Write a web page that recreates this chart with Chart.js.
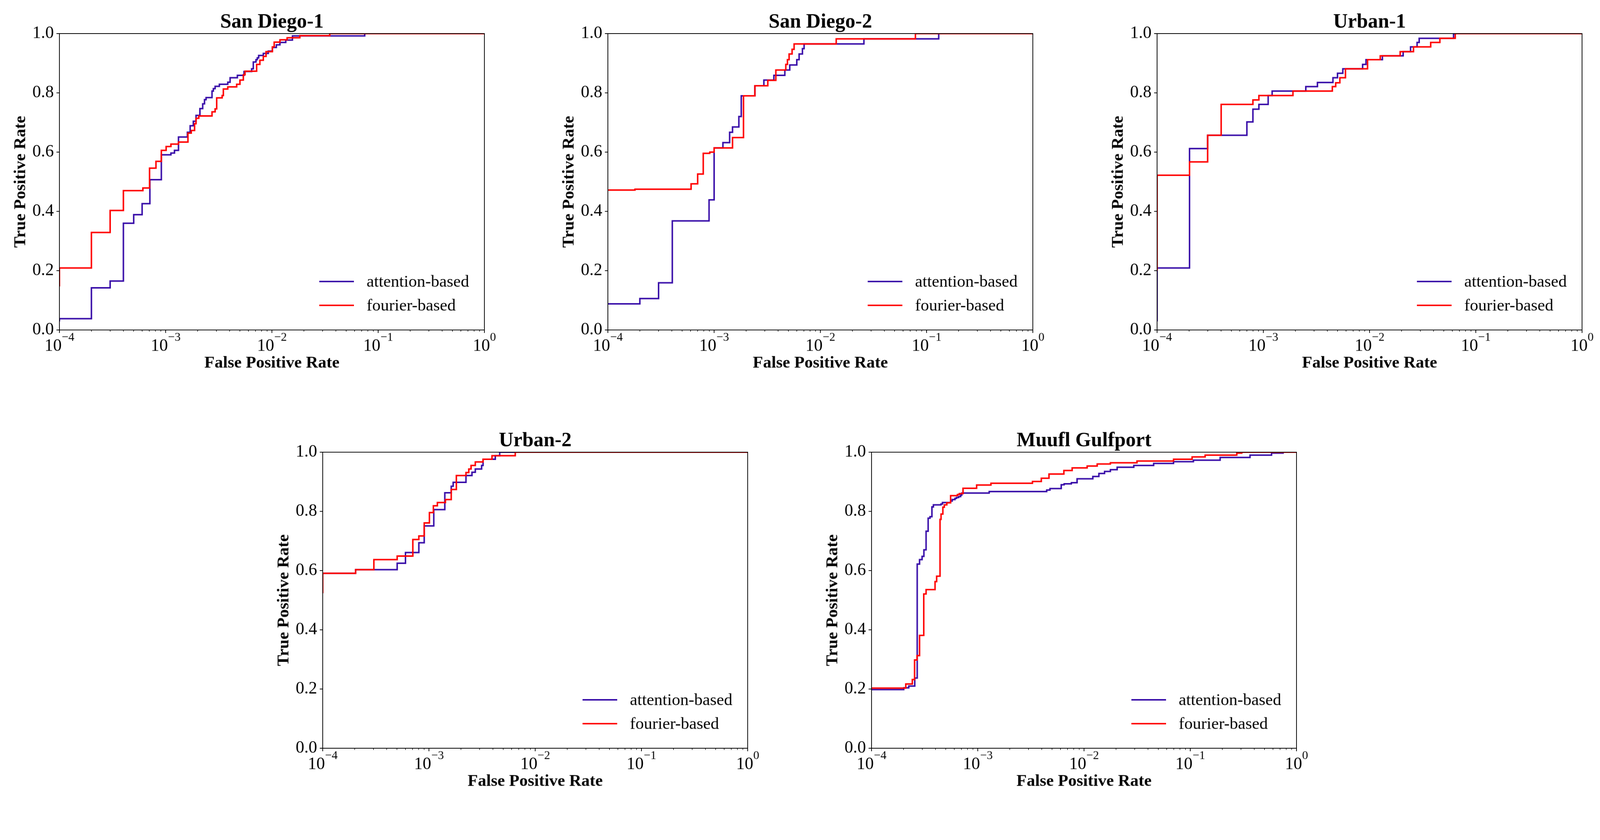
<!DOCTYPE html>
<html>
<head>
<meta charset="utf-8">
<title>ROC curves</title>
<script src="https://cdn.jsdelivr.net/npm/chart.js@4.4.1/dist/chart.umd.min.js"></script>
<style>
  html, body { margin: 0; padding: 0; background: #fff; overflow: hidden; }
  #figure { position: relative; background: #fff; }
  #figure canvas { position: absolute; }
</style>
</head>
<body>
<div id="figure"></div>
<script>
// [false positive rate, true positive rate] at each step of the ROC curve
const sd1Attention = [
  [1e-4, 0.029], [1e-4, 0.038], [2e-4, 0.142], [3e-4, 0.165], [4e-4, 0.36], [5e-4, 0.389],
  [6e-4, 0.426], [7.1e-4, 0.507], [9.1e-4, 0.591], [1.12e-3, 0.597], [1.21e-3, 0.606],
  [1.32e-3, 0.651], [1.6e-3, 0.667], [1.7e-3, 0.689], [1.82e-3, 0.704], [1.93e-3, 0.724],
  [2.1e-3, 0.747], [2.23e-3, 0.763], [2.32e-3, 0.777], [2.4e-3, 0.784], [2.73e-3, 0.806],
  [2.81e-3, 0.814], [2.92e-3, 0.822], [3.2e-3, 0.829], [3.84e-3, 0.836], [4.04e-3, 0.851],
  [4.73e-3, 0.859], [5.46e-3, 0.872], [6.44e-3, 0.881], [6.68e-3, 0.904], [7.08e-3, 0.912],
  [7.28e-3, 0.918], [7.5e-3, 0.926], [8.3e-3, 0.933], [9.25e-3, 0.941], [1.01e-2, 0.953],
  [1.1e-2, 0.962], [1.19e-2, 0.97], [1.35e-2, 0.978], [1.56e-2, 0.992], [7.47e-2, 1.0], [1, 1.0]
];
const sd1Fourier = [
  [1e-4, 0.147], [1e-4, 0.209], [2e-4, 0.329], [3e-4, 0.403], [4e-4, 0.470], [6.1e-4, 0.479],
  [7.05e-4, 0.546], [8.1e-4, 0.569], [9.1e-4, 0.606], [1.01e-3, 0.619], [1.12e-3, 0.627],
  [1.32e-3, 0.634], [1.62e-3, 0.664], [1.74e-3, 0.673], [1.87e-3, 0.696], [1.93e-3, 0.714],
  [2.05e-3, 0.722], [2.73e-3, 0.736], [2.92e-3, 0.746], [3.02e-3, 0.783], [3.4e-3, 0.791],
  [3.49e-3, 0.813], [3.84e-3, 0.82], [4.66e-3, 0.829], [5.0e-3, 0.843], [5.38e-3, 0.861],
  [5.58e-3, 0.873], [7.18e-3, 0.896], [7.7e-3, 0.91], [8.3e-3, 0.923], [8.8e-3, 0.939],
  [1.01e-2, 0.955], [1.05e-2, 0.971], [1.19e-2, 0.979], [1.39e-2, 0.986], [1.83e-2, 0.993],
  [3.5e-2, 1.0], [1, 1.0]
];
const sd2Attention = [
  [1e-4, 0.088], [2.0e-4, 0.106], [3.0e-4, 0.159], [4.04e-4, 0.368], [8.96e-4, 0.386],
  [8.96e-4, 0.439], [1.0e-3, 0.614], [1.21e-3, 0.632], [1.4e-3, 0.667], [1.49e-3, 0.685],
  [1.71e-3, 0.72], [1.8e-3, 0.79], [2.42e-3, 0.824], [2.94e-3, 0.843], [3.65e-3, 0.859],
  [4.63e-3, 0.877], [5.15e-3, 0.894], [6.0e-3, 0.912], [6.31e-3, 0.931], [6.78e-3, 0.949],
  [7.03e-3, 0.965], [2.57e-2, 0.982], [0.13, 1.0], [1, 1.0]
];
const sd2Fourier = [
  [1e-4, 0.472], [1.8e-4, 0.475], [6.07e-4, 0.493], [7.0e-4, 0.526], [7.9e-4, 0.596],
  [9.1e-4, 0.6], [1.0e-3, 0.614], [1.49e-3, 0.649], [1.89e-3, 0.79], [2.42e-3, 0.824],
  [3.2e-3, 0.842], [3.81e-3, 0.877], [4.73e-3, 0.896], [4.9e-3, 0.912], [5.08e-3, 0.931],
  [5.42e-3, 0.947], [5.66e-3, 0.965], [1.41e-2, 0.982], [7.85e-2, 1.0], [1, 1.0]
];
const urban1Attention = [
  [1e-4, 0.029], [1e-4, 0.209], [2.02e-4, 0.612], [2.99e-4, 0.657], [7.0e-4, 0.702],
  [7.98e-4, 0.745], [9.08e-4, 0.761], [1.11e-3, 0.791], [1.21e-3, 0.806], [2.51e-3, 0.821],
  [3.23e-3, 0.835], [4.52e-3, 0.851], [4.99e-3, 0.866], [5.6e-3, 0.881], [8.6e-3, 0.896],
  [9.25e-3, 0.912], [1.32e-2, 0.925], [2.07e-2, 0.939], [2.43e-2, 0.955], [2.8e-2, 0.97],
  [2.93e-2, 0.984], [6.17e-2, 1.0], [1, 1.0]
];
const urban1Fourier = [
  [1e-4, 0.2], [1e-4, 0.522], [2.02e-4, 0.567], [2.99e-4, 0.657], [4.01e-4, 0.761],
  [7.98e-4, 0.776], [9.08e-4, 0.791], [1.9e-3, 0.806], [4.46e-3, 0.821], [4.8e-3, 0.834],
  [5.25e-3, 0.851], [5.93e-3, 0.881], [9.57e-3, 0.912], [1.26e-2, 0.925], [1.94e-2, 0.939],
  [2.59e-2, 0.955], [3.76e-2, 0.97], [4.59e-2, 0.984], [6.4e-2, 1.0], [1, 1.0]
];
const urban2Attention = [
  [1e-4, 0.524], [1e-4, 0.591], [2.04e-4, 0.603], [5.02e-4, 0.625], [6.01e-4, 0.661],
  [8.03e-4, 0.694], [9.02e-4, 0.751], [1.11e-3, 0.806], [1.41e-3, 0.863], [1.62e-3, 0.885],
  [1.69e-3, 0.898], [2.23e-3, 0.921], [2.54e-3, 0.932], [2.73e-3, 0.943], [3.13e-3, 0.955],
  [3.23e-3, 0.976], [4.21e-3, 0.988], [4.63e-3, 1.0], [1, 1.0]
];
const urban2Fourier = [
  [1e-4, 0.524], [1e-4, 0.591], [2.04e-4, 0.603], [3.03e-4, 0.637], [5.02e-4, 0.649],
  [7.05e-4, 0.705], [8.03e-4, 0.717], [9.02e-4, 0.761], [1.01e-3, 0.796], [1.1e-3, 0.819],
  [1.2e-3, 0.83], [1.43e-3, 0.84], [1.62e-3, 0.874], [1.81e-3, 0.921], [2.23e-3, 0.931],
  [2.37e-3, 0.943], [2.49e-3, 0.955], [2.73e-3, 0.967], [3.23e-3, 0.976], [3.92e-3, 0.988],
  [6.49e-3, 1.0], [1, 1.0]
];
const muuflAttention = [
  [1e-4, 0.198], [2.01e-4, 0.204], [2.24e-4, 0.21], [2.55e-4, 0.237], [2.69e-4, 0.622],
  [2.83e-4, 0.637], [2.99e-4, 0.648], [3.11e-4, 0.67], [3.26e-4, 0.733], [3.41e-4, 0.777],
  [3.55e-4, 0.782], [3.7e-4, 0.815], [3.82e-4, 0.822], [4.5e-4, 0.825], [4.65e-4, 0.83],
  [5.55e-4, 0.835], [5.75e-4, 0.84], [6.1e-4, 0.844], [6.3e-4, 0.847], [6.6e-4, 0.85],
  [6.9e-4, 0.855], [7.07e-4, 0.862], [1.28e-3, 0.867], [4.45e-3, 0.872], [4.78e-3, 0.877],
  [6.1e-3, 0.89], [6.5e-3, 0.893], [7.6e-3, 0.897], [8.6e-3, 0.91], [1.21e-2, 0.918],
  [1.38e-2, 0.928], [1.56e-2, 0.935], [1.77e-2, 0.941], [2.05e-2, 0.949], [2.94e-2, 0.955],
  [4.52e-2, 0.962], [6.96e-2, 0.968], [0.107, 0.973], [0.191, 0.982], [0.365, 0.99],
  [0.582, 0.997], [0.76, 0.997]
];
const muuflFourier = [
  [1e-4, 0.203], [2.1e-4, 0.217], [2.42e-4, 0.232], [2.54e-4, 0.298], [2.68e-4, 0.313],
  [2.83e-4, 0.381], [3.1e-4, 0.521], [3.26e-4, 0.536], [3.96e-4, 0.563], [4.1e-4, 0.581],
  [4.41e-4, 0.773], [4.51e-4, 0.791], [4.69e-4, 0.814], [4.84e-4, 0.822], [5.11e-4, 0.829],
  [5.55e-4, 0.853], [6.43e-4, 0.857], [6.7e-4, 0.86], [7.26e-4, 0.878], [9.75e-4, 0.889],
  [1.33e-3, 0.895], [3.27e-3, 0.901], [3.96e-3, 0.912], [4.68e-3, 0.926], [6.46e-3, 0.938],
  [7.73e-3, 0.947], [1.07e-2, 0.953], [1.33e-2, 0.96], [1.77e-2, 0.964], [3.15e-2, 0.97],
  [6.96e-2, 0.976], [0.104, 0.984], [0.138, 0.99], [0.274, 0.997], [0.305, 1.0], [1, 1.0]
];

const seriesLabels = ['attention-based', 'fourier-based'];
const xDecades = [-4, -3, -2, -1, 0];
const yTicks = [0, 0.2, 0.4, 0.6, 0.8, 1.0];

const FONT = "'Liberation Serif', 'Times New Roman', serif";
const BLUE = '#370ca8';
const RED = '#ff0000';

// figure is laid out in reference pixels, then fitted to the real viewport width
const FIG_W = 4292, FIG_H = 2151;
const S = (window.innerWidth || FIG_W) / FIG_W;

// plot box size and the margins around it inside each canvas
const PLOT_W = 1140, PLOT_H = 795;
const PAD_L = 150, PAD_T = 90, PAD_R = 45, PAD_B = 130;

const panels = [
  { title: 'San Diego-1', attention: sd1Attention, fourier: sd1Fourier, left: 159, top: 90 },
  { title: 'San Diego-2', attention: sd2Attention, fourier: sd2Fourier, left: 1631, top: 90 },
  { title: 'Urban-1', attention: urban1Attention, fourier: urban1Fourier, left: 3104, top: 90 },
  { title: 'Urban-2', attention: urban2Attention, fourier: urban2Fourier, left: 866, top: 1213 },
  { title: 'Muufl Gulfport', attention: muuflAttention, fourier: muuflFourier, left: 2338, top: 1213 }
];

const figure = document.getElementById('figure');
figure.style.width = (FIG_W * S) + 'px';
figure.style.height = (FIG_H * S) + 'px';

// frame, minor ticks, 10^k labels and the legend (matplotlib look)
const rocDecor = {
  id: 'rocDecor',
  afterDraw(chart) {
    const { ctx, chartArea: a } = chart;
    const xs = chart.scales.x;
    ctx.save();
    ctx.strokeStyle = '#000';
    ctx.lineWidth = 2;
    ctx.strokeRect(a.left, a.top, a.right - a.left, a.bottom - a.top);

    ctx.lineWidth = 1.5;
    ctx.beginPath();
    xDecades.slice(0, -1).forEach(d => {
      for (let m = 2; m <= 9; m++) {
        const px = xs.getPixelForValue(m * Math.pow(10, d));
        ctx.moveTo(px, a.bottom);
        ctx.lineTo(px, a.bottom + 4.5);
      }
    });
    ctx.stroke();

    ctx.fillStyle = '#000';
    ctx.textAlign = 'left';
    ctx.textBaseline = 'alphabetic';
    xDecades.forEach(d => {
      const px = xs.getPixelForValue(Math.pow(10, d));
      const exp = d < 0 ? '\u2212' + (-d) : String(d);
      ctx.font = `46px ${FONT}`;
      const wBase = ctx.measureText('10').width;
      ctx.font = `32px ${FONT}`;
      const wExp = ctx.measureText(exp).width;
      const x0 = px - (wBase + wExp) / 2;
      ctx.font = `46px ${FONT}`;
      ctx.fillText('10', x0, a.bottom + 56);
      ctx.font = `32px ${FONT}`;
      ctx.fillText(exp, x0 + wBase, a.bottom + 29);
    });

    chart.data.datasets.forEach((ds, i) => {
      const y = a.bottom - 130 + i * 64;
      ctx.strokeStyle = ds.borderColor;
      ctx.lineWidth = 4;
      ctx.beginPath();
      ctx.moveTo(a.right - 443, y);
      ctx.lineTo(a.right - 350, y);
      ctx.stroke();
      ctx.font = `45px ${FONT}`;
      ctx.textBaseline = 'middle';
      ctx.fillText(ds.label, a.right - 316, y + 2);
    });
    ctx.restore();
  }
};

function toPoints(pairs) {
  return pairs.map(([x, y]) => ({ x, y }));
}

function makePanel(p) {
  const canvas = document.createElement('canvas');
  canvas.width = PAD_L + PLOT_W + PAD_R;
  canvas.height = PAD_T + PLOT_H + PAD_B;
  canvas.style.left = ((p.left - PAD_L) * S) + 'px';
  canvas.style.top = ((p.top - PAD_T) * S) + 'px';
  canvas.style.width = (canvas.width * S) + 'px';
  canvas.style.height = (canvas.height * S) + 'px';
  figure.appendChild(canvas);

  const axisGrid = { drawOnChartArea: false, drawTicks: true, tickLength: 8, color: '#000', lineWidth: 2 };
  const axisBorder = { display: true, color: '#000', width: 2 };

  return new Chart(canvas.getContext('2d'), {
    type: 'line',
    data: {
      datasets: [
        { label: seriesLabels[0], data: toPoints(p.attention), borderColor: BLUE, order: 1 },
        { label: seriesLabels[1], data: toPoints(p.fourier), borderColor: RED, order: 0 }
      ]
    },
    options: {
      responsive: false,
      animation: false,
      devicePixelRatio: 1,
      events: [],
      layout: { padding: { left: 0, top: 33, right: PAD_R, bottom: 0 } },
      elements: {
        line: { borderWidth: 4, stepped: true, tension: 0, fill: false, borderCapStyle: 'butt', borderJoinStyle: 'miter' },
        point: { radius: 0 }
      },
      plugins: {
        legend: { display: false },
        tooltip: { enabled: false },
        title: {
          display: true,
          text: p.title,
          color: '#000',
          fullSize: false,
          font: { family: FONT, size: 54, weight: 'bold', lineHeight: 1 },
          padding: { top: 0, bottom: 3 }
        }
      },
      scales: {
        x: {
          type: 'logarithmic',
          min: 1e-4,
          max: 1,
          afterBuildTicks: s => { s.ticks = xDecades.map(d => ({ value: Math.pow(10, d), major: true })); },
          afterFit: s => { s.height = PAD_B; },
          ticks: { display: false },
          grid: axisGrid,
          border: axisBorder,
          title: {
            display: true,
            text: 'False Positive Rate',
            color: '#000',
            font: { family: FONT, size: 45, weight: 'bold', lineHeight: 1 },
            padding: { top: 0, bottom: 18 }
          }
        },
        y: {
          type: 'linear',
          min: 0,
          max: 1,
          afterBuildTicks: s => { s.ticks = yTicks.map(v => ({ value: v })); },
          afterFit: s => { s.width = PAD_L; },
          ticks: {
            callback: v => Number(v).toFixed(1),
            color: '#000',
            padding: 7,
            font: { family: FONT, size: 46 }
          },
          grid: axisGrid,
          border: axisBorder,
          title: {
            display: true,
            text: 'True Positive Rate',
            color: '#000',
            font: { family: FONT, size: 45, weight: 'bold', lineHeight: 1 },
            padding: { top: 24, bottom: 0 }
          }
        }
      }
    },
    plugins: [rocDecor]
  });
}

panels.forEach(makePanel);
</script>
</body>
</html>
